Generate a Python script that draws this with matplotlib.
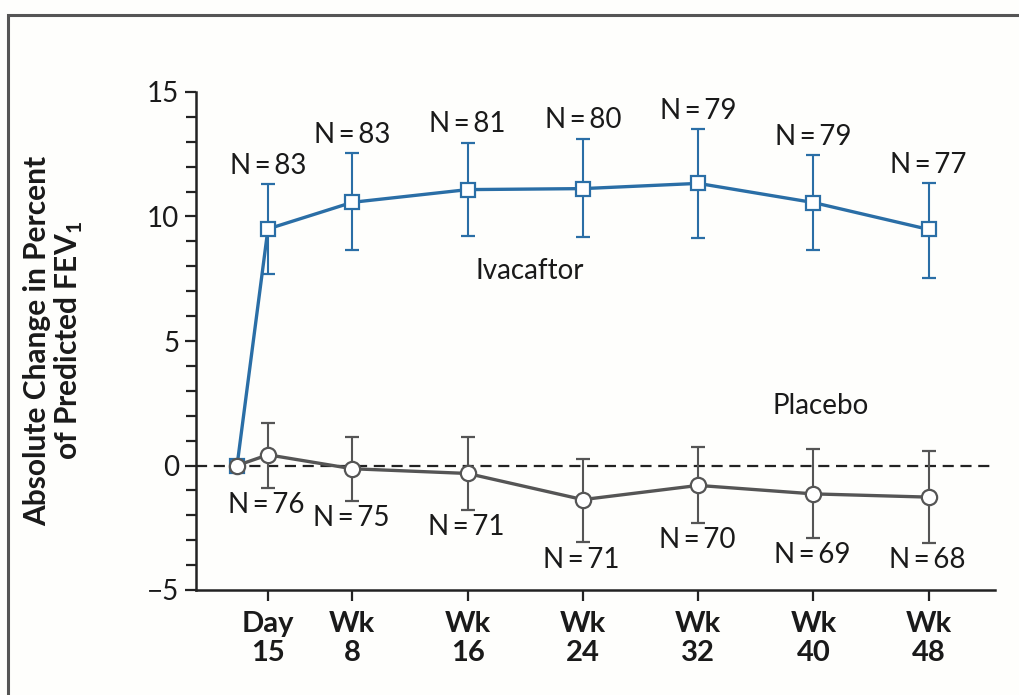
import numpy as np
import matplotlib
matplotlib.use('Agg')
import matplotlib.pyplot as plt
from matplotlib.patches import Rectangle
from matplotlib.ticker import MultipleLocator

plt.rcParams['font.family'] = ['Lato', 'DejaVu Sans']

# visit times in weeks (day 0, day 15, wk 8 ... wk 48)
weeks = [0, 15 / 7, 8, 16, 24, 32, 40, 48]
tick_weeks = weeks[1:]
tick_labels = ['Day\n15', 'Wk\n8', 'Wk\n16', 'Wk\n24', 'Wk\n32', 'Wk\n40', 'Wk\n48']

# Ivacaftor: mean change and 95% CI
iva_mean = [0, 9.5, 10.57, 11.08, 11.12, 11.33, 10.56, 9.48]
iva_low = [0, 7.7, 8.66, 9.2, 9.16, 9.12, 8.67, 7.55]
iva_high = [0, 11.3, 12.54, 12.97, 13.13, 13.5, 12.45, 11.33]
iva_n = [83, 83, 81, 80, 79, 79, 77]

# Placebo
pla_mean = [0, 0.43, -0.13, -0.32, -1.37, -0.8, -1.14, -1.27]
pla_low = [0, -0.9, -1.41, -1.77, -3.09, -2.29, -2.9, -3.12]
pla_high = [0, 1.7, 1.14, 1.16, 0.28, 0.76, 0.67, 0.6]
pla_n = [76, 75, 71, 71, 70, 69, 68]

blue = '#2a6ea6'
grey = '#555555'
txt = '#1a1a1a'

fig = plt.figure(figsize=(10.19, 6.95), dpi=100)
fig.patch.set_facecolor('#fefefc')
ax = fig.add_axes([196 / 1019, 1 - 590 / 695, (995 - 196) / 1019, (590 - 92) / 695])
ax.set_facecolor('#fefefc')

# outer frame (only top and left edges visible)
fig.patches.append(Rectangle((8 / 1019, -0.2), 1.2, 1.2 - 15 / 695, transform=fig.transFigure,
                             fill=False, edgecolor='#555555', linewidth=2.2, clip_on=False))

ax.axhline(0, color='#222222', linewidth=1.6, linestyle=(0, (5, 3)), zorder=1)


def err(mean, low, high):
    m = np.array(mean)
    return [m - np.array(low), np.array(high) - m]


ax.errorbar(weeks, iva_mean, yerr=err(iva_mean, iva_low, iva_high), color=blue,
            linewidth=2.4, elinewidth=1.5, capsize=5, capthick=1.5,
            marker='s', markersize=10, markerfacecolor='white', markeredgecolor=blue,
            markeredgewidth=1.6, zorder=3)
ax.errorbar(weeks, pla_mean, yerr=err(pla_mean, pla_low, pla_high), color=grey,
            linewidth=2.4, elinewidth=1.5, capsize=5, capthick=1.5,
            marker='o', markersize=11, markerfacecolor='white', markeredgecolor=grey,
            markeredgewidth=1.6, zorder=4)

sp = '\u2009'
for x, y, n in zip(weeks[1:], iva_high[1:], iva_n):
    ax.annotate(f'N{sp}={sp}{n}', (x, y), xytext=(0, 4), textcoords='offset points',
                ha='center', va='bottom', fontsize=20, color=txt)
for x, y, n in zip(weeks[1:], pla_low[1:], pla_n):
    ax.annotate(f'N{sp}={sp}{n}', (x, y), xytext=(-1, -3), textcoords='offset points',
                ha='center', va='top', fontsize=20, color=txt)

ax.text(20.3, 7.8, 'Ivacaftor', ha='center', va='center', fontsize=20, color=txt)
ax.text(40.5, 2.4, 'Placebo', ha='center', va='center', fontsize=20, color=txt)

ax.set_xlim(-2.85, 52.6)
ax.set_ylim(-5, 15)
ax.set_xticks(tick_weeks)
ax.set_xticklabels(tick_labels, fontsize=21, fontweight='bold', color=txt, linespacing=1.15)
ax.set_yticks([-5, 0, 5, 10, 15])
ax.set_yticklabels(['\u22125', '0', '5', '10', '15'], fontsize=20, color=txt)
ax.yaxis.set_minor_locator(MultipleLocator(1))
ax.tick_params(axis='both', which='both', direction='out', width=1.6, color='#222222')
ax.tick_params(axis='both', which='major', length=8, pad=4)
ax.tick_params(axis='x', which='major', pad=7)
ax.tick_params(axis='y', which='minor', length=7)

for side in ['top', 'right']:
    ax.spines[side].set_visible(False)
for side in ['left', 'bottom']:
    ax.spines[side].set_linewidth(1.8)
    ax.spines[side].set_color('#222222')

ax.set_ylabel('Absolute Change in Percent\nof Predicted FEV$_\\mathregular{1}$', fontsize=21.5,
              fontweight='bold', color=txt, linespacing=1.05)
ax.yaxis.set_label_coords(-0.139, 0.5)

fig.savefig('out.png', dpi=100, facecolor=fig.get_facecolor())
